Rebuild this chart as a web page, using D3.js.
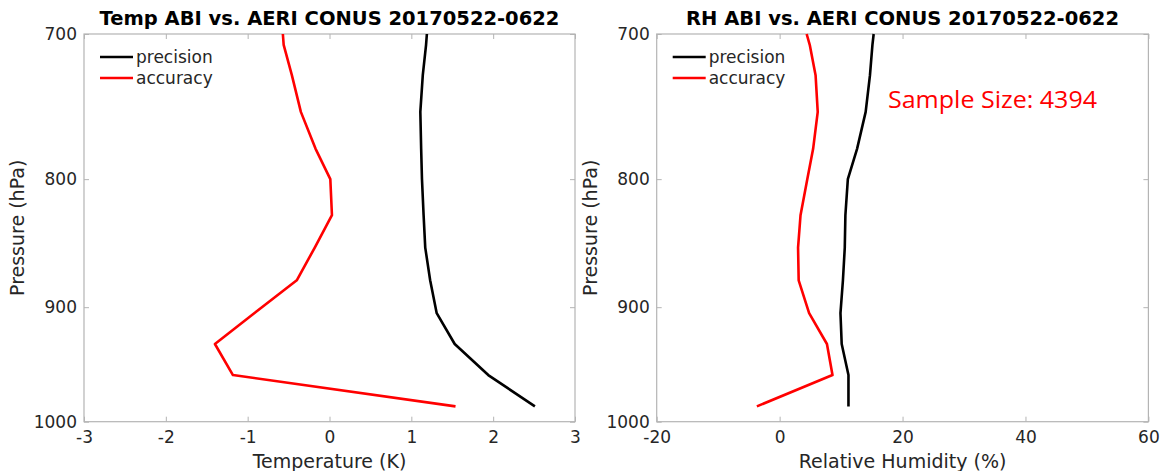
<!DOCTYPE html>
<html>
<head>
<meta charset="utf-8">
<script src="https://cdn.jsdelivr.net/npm/d3@7"></script>
<style>
	body { margin: 0; background: #fff; }
	svg { display: block; font-family: 'DejaVu Sans', sans-serif; }
</style>
</head>
<body>
<svg id="chart" width="1161" height="471"></svg>
<script>
// pressure levels (hPa) shared by both panels
const pressure = [700, 707, 727, 752, 778, 800, 827, 852, 878, 905, 931, 958, 986]

// temperature (K)
const tempPrecision = [1.19, 1.18, 1.14, 1.11, 1.12, 1.13, 1.15, 1.17, 1.23, 1.31, 1.53, 1.94, 2.51]
const tempAccuracy = [-0.57, -0.56, -0.46, -0.35, -0.17, 0.01, 0.03, -0.18, -0.40, -0.92, -1.40, -1.18, 1.54]

// relative humidity (%)
const rhPrecision = [15.3, 15.1, 14.7, 14.0, 12.6, 11.1, 10.7, 10.6, 10.3, 9.9, 10.1, 11.2, 11.2]
const rhAccuracy = [4.4, 4.9, 5.85, 6.2, 5.45, 4.5, 3.4, 3.0, 3.1, 4.8, 7.7, 8.6, -3.7]

const pressureTicks = [700, 800, 900, 1000]
const tempTicks = [-3, -2, -1, 0, 1, 2, 3]
const rhTicks = [-20, 0, 20, 40, 60]

const seriesNames = ['precision', 'accuracy']
const seriesColors = ['#000000', '#ff0000']

const panels = [
	{
		title: 'Temp ABI vs. AERI CONUS 20170522-0622',
		xLabel: 'Temperature (K)',
		domain: [-3, 3],
		ticks: tempTicks,
		range: [84, 575],
		series: [tempPrecision, tempAccuracy]
	},
	{
		title: 'RH ABI vs. AERI CONUS 20170522-0622',
		xLabel: 'Relative Humidity (%)',
		domain: [-20, 60],
		ticks: rhTicks,
		range: [656.7, 1148.4],
		series: [rhPrecision, rhAccuracy]
	}
]

const frameColor = '#b4b4b4'
const textColor = '#262626'

const svg = d3.select('#chart')

const y = d3.scaleLog().domain([700, 1000]).range([34, 421.7])

const drawPanel = panel => {
	const x = d3.scaleLinear().domain(panel.domain).range(panel.range)
	const [left, right] = panel.range
	const [top, bottom] = y.range()
	const g = svg.append('g')

	const styleAxis = sel => {
		sel.select('.domain').remove()
		sel.selectAll('.tick line').attr('stroke', frameColor)
		sel.selectAll('.tick text')
			.attr('fill', textColor)
			.style('font-size', '17px')
			.style('font-family', "'DejaVu Sans', sans-serif")
	}

	g.append('g')
		.attr('transform', `translate(0,${bottom})`)
		.call(d3.axisBottom(x).tickValues(panel.ticks).tickFormat(d => String(d)).tickSizeInner(-5).tickSizeOuter(0).tickPadding(9))
		.call(styleAxis)

	g.append('g')
		.attr('transform', `translate(0,${top})`)
		.call(d3.axisTop(x).tickValues(panel.ticks).tickFormat('').tickSizeInner(-5).tickSizeOuter(0))
		.call(styleAxis)

	g.append('g')
		.attr('transform', `translate(${left},0)`)
		.call(d3.axisLeft(y).tickValues(pressureTicks).tickFormat(d => String(d)).tickSizeInner(-5).tickSizeOuter(0).tickPadding(7))
		.call(styleAxis)

	g.append('g')
		.attr('transform', `translate(${right},0)`)
		.call(d3.axisRight(y).tickValues(pressureTicks).tickFormat('').tickSizeInner(-5).tickSizeOuter(0))
		.call(styleAxis)

	g.append('rect')
		.attr('x', left)
		.attr('y', top)
		.attr('width', right - left)
		.attr('height', bottom - top)
		.attr('fill', 'none')
		.attr('stroke', frameColor)
		.attr('stroke-width', 1.2)

	const line = d3.line()
		.x(d => x(d[1]))
		.y(d => y(d[0]))

	panel.series.forEach((values, i) => {
		g.append('path')
			.datum(d3.zip(pressure, values))
			.attr('d', line)
			.attr('fill', 'none')
			.attr('stroke', seriesColors[i])
			.attr('stroke-width', 2.6)
			.attr('stroke-linejoin', 'round')
	})

	// legend, top left inside the box
	seriesNames.forEach((name, i) => {
		const ly = 57 + i * 21
		g.append('line')
			.attr('x1', left + 16)
			.attr('x2', left + 49)
			.attr('y1', ly)
			.attr('y2', ly)
			.attr('stroke', seriesColors[i])
			.attr('stroke-width', 2.6)
		g.append('text')
			.attr('x', left + 52)
			.attr('y', ly)
			.attr('dy', '0.35em')
			.attr('fill', textColor)
			.style('font-size', '17px')
			.text(name)
	})

	g.append('text')
		.attr('x', (left + right) / 2)
		.attr('y', 25)
		.attr('text-anchor', 'middle')
		.attr('fill', '#000')
		.style('font-size', '19.5px')
		.style('font-weight', 'bold')
		.text(panel.title)

	g.append('text')
		.attr('x', (left + right) / 2)
		.attr('y', 468)
		.attr('text-anchor', 'middle')
		.attr('fill', textColor)
		.style('font-size', '19px')
		.text(panel.xLabel)

	g.append('text')
		.attr('transform', `translate(${left - 60},${(top + bottom) / 2}) rotate(-90)`)
		.attr('text-anchor', 'middle')
		.attr('fill', textColor)
		.style('font-size', '19px')
		.text('Pressure (hPa)')
}

panels.forEach(drawPanel)

svg.append('text')
	.attr('x', 888)
	.attr('y', 108)
	.attr('fill', '#ff0000')
	.attr('textLength', 209)
	.attr('lengthAdjust', 'spacingAndGlyphs')
	.style('font-family', "'Open Sans', sans-serif")
	.style('font-size', '23px')
	.text('Sample Size: 4394')
</script>
</body>
</html>
